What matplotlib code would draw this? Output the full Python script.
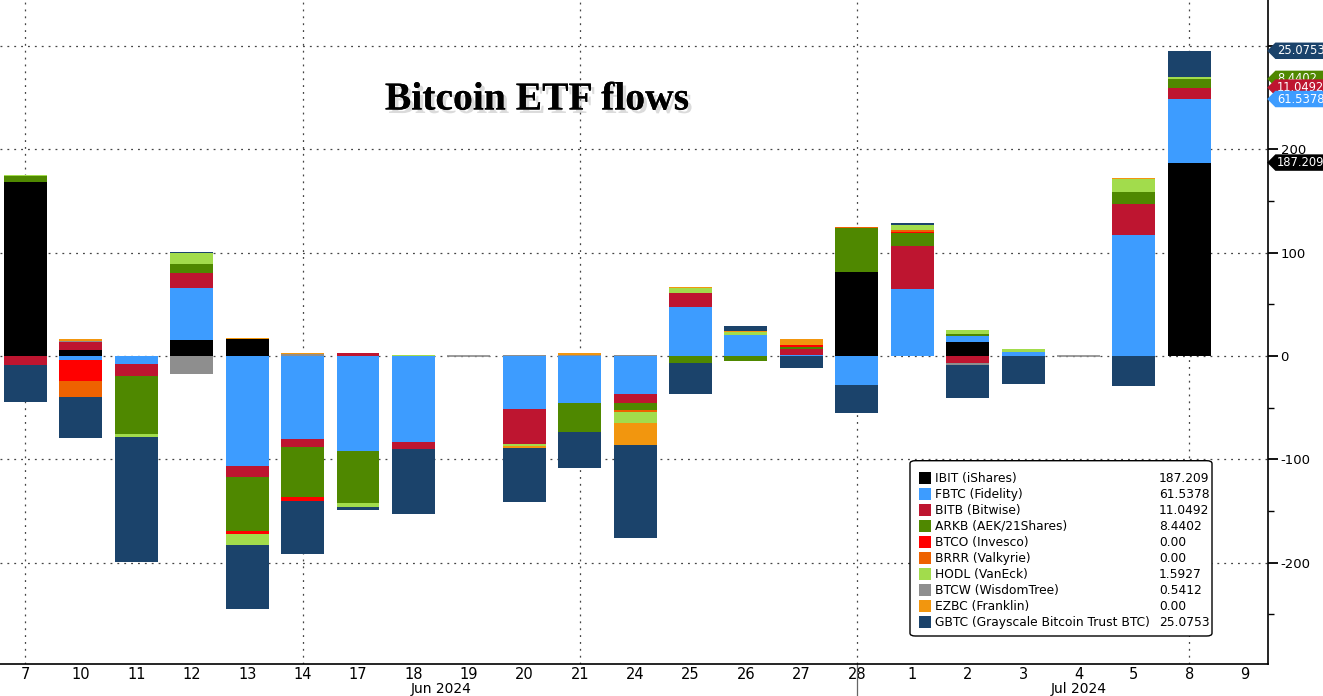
import matplotlib
matplotlib.use('Agg')
import matplotlib.pyplot as plt
import matplotlib.patheffects as pe
import matplotlib.transforms as mtrans
from matplotlib.path import Path
from matplotlib.patches import FancyBboxPatch, Rectangle
import numpy as np

# trading days, Jun 7 2024 .. Jul 9 2024
days = ['7', '10', '11', '12', '13', '14', '17', '18', '19', '20', '21', '24',
        '25', '26', '27', '28', '1', '2', '3', '4', '5', '8', '9']
months = ['Jun 2024'] * 16 + ['Jul 2024'] * 7
grid_days = ['7', '14', '21', '28', '8']

nan = np.nan
# daily flows, $m
ibit = [168.1, 5.8, 0, 15.5, 16.8, 0, 0, 0, 0, 0, 0, 0, 0, 0, 0, 81.6, 0, 13.6, 0, 0, 0, 187.209, nan]
fbtc = [0, -3.9, -7.7, 50.6, -106.5, -80.3, -92.0, -82.9, 0, -51.0, -45.8, -36.8, 47.1, 20.3, 0.8, -28.1, 65.2, 5.8, 4.2, 0, 117.1, 61.5378, nan]
bitb = [-8.7, 7.4, -11.6, 14.5, -10.6, -7.7, 2.6, -7.4, 0, -34.2, 0, -9.0, 14.2, 0, 6.2, 0, 41.3, -7.1, 0, 0, 30.0, 11.0492, nan]
arkb = [6.1, 0, -56.1, 8.1, -52.0, -48.1, -50.3, 0, 0, 0, -27.8, -6.5, -6.8, -4.5, 2.0, 42.6, 12.3, 1.6, 0, 0, 11.3, 8.4402, nan]
btco = [0, -20.3, 0, 0, -3.2, -3.9, 0, 0, 0, 0, 0, 0, 0, 0, 2.0, 0, 1.6, 0, 0, 0, 0, 0.0, nan]
brrr = [0, -15.5, 0, 0.8, 0, 0, 0, 0, 0, 0, 0, -2.3, 0, 0, 0, 0.4, 1.6, 0, 0, 0, 0, 0.0, nan]
hodl = [1.0, 0, -3.5, 9.7, -10.6, 0, -3.5, 0.6, 0, -2.0, 0, -10.6, 4.3, 2.5, 0, 0.4, 4.8, 4.2, 2.6, 0, 12.9, 1.5927, nan]
btcw = [0, 1.6, 0, -17.1, 0, 2.0, 0, 0, 0, 1.0, 0.5, 0.6, 0, 0, 0, 0, 0, -1.9, 0, 0, 0, 0.5412, nan]
ezbc = [0, 1.6, 0.4, 0, 0.6, 1.2, 0.6, 0, 0, -1.5, 2.5, -20.7, 1.5, 1.4, 5.0, 0, 0, 0, 0, 0, 0.8, 0.0, nan]
gbtc = [-35.5, -39.4, -121.0, 1.3, -61.6, -51.6, -3.2, -62.3, 0, -52.3, -34.5, -90.0, -29.7, 4.8, -11.3, -26.8, 1.6, -31.3, -27.1, 0, -29.0, 25.0753, nan]

names = ['IBIT (iShares)', 'FBTC (Fidelity)', 'BITB (Bitwise)', 'ARKB (AEK/21Shares)',
         'BTCO (Invesco)', 'BRRR (Valkyrie)', 'HODL (VanEck)', 'BTCW (WisdomTree)',
         'EZBC (Franklin)', 'GBTC (Grayscale Bitcoin Trust BTC)']
series = [ibit, fbtc, bitb, arkb, btco, brrr, hodl, btcw, ezbc, gbtc]
colors = ['#000000', '#3d9cff', '#be1530', '#4f8800', '#ff0000', '#ee6200',
          '#a2dc4c', '#8e8e8e', '#f2960e', '#1b436b']

fig = plt.figure(figsize=(13.23, 6.96), dpi=100)
ax = fig.add_axes([0, 1 - 664 / 696, 1268 / 1323, 664 / 696])

x = np.arange(len(days))
w = 0.775
pos_base = np.zeros(len(days))
neg_base = np.zeros(len(days))
last = max(i for i in range(len(days)) if not np.isnan(ibit[i]))
tags = []
for name, vals, c in zip(names, series, colors):
    v = np.array(vals, float)
    pos = np.where(v > 0, v, 0)
    neg = np.where(v < 0, v, 0)
    ax.bar(x, pos, w, bottom=pos_base, color=c, lw=0, zorder=3)
    ax.bar(x, neg, w, bottom=neg_base, color=c, lw=0, zorder=3)
    pos_base += pos
    neg_base += neg
    if v[last] >= 5:
        tags.append((v[last], pos_base[last], c))

# days with no flows at all get a flat grey line
tot = np.array([np.nansum(np.abs([s[i] for s in series])) for i in range(len(days))])
has = np.array([not np.isnan(ibit[i]) for i in range(len(days))])
flat = (tot == 0) & has
ax.bar(x[flat], np.zeros(flat.sum()), w, color='none', edgecolor='#8a8a8a', lw=1.2, zorder=3)

ax.set_xlim(-0.46, 22.42)
ax.set_ylim(-298.2, 344.6)

# axes / ticks
for s in ['left', 'top']:
    ax.spines[s].set_visible(False)
ax.spines['right'].set_linewidth(1.2)
ax.spines['bottom'].set_linewidth(1.2)
ax.yaxis.tick_right()
ax.set_yticks([-200, -100, 0, 100, 200, 300])
ax.set_yticklabels(['-200', '-100', '0', '100', '200', ''])
ax.set_yticks([-250, -150, -50, 50, 150, 250], minor=True)
ax.tick_params(axis='y', which='major', length=7, width=1.3, pad=2, labelsize=9.5)
ax.tick_params(axis='y', which='minor', length=4, width=1)
ax.set_xticks(x)
ax.set_xticklabels(days, fontsize=10.5)
ax.tick_params(axis='x', length=0, pad=2)

grid_ls = (0, (1.5, 4))
for yv in [-200, -100, 0, 100, 200, 300]:
    ax.axhline(yv, color='#444444', lw=0.9, ls=grid_ls, zorder=1)
for d in grid_days:
    ax.axvline(days.index(d), color='#444444', lw=0.9, ls=grid_ls, zorder=1)

# month labels and separator
btr = mtrans.blended_transform_factory(ax.transData, ax.transAxes)
for m in ['Jun 2024', 'Jul 2024']:
    idx = [i for i, mm in enumerate(months) if mm == m]
    ax.text((idx[0] + idx[-1]) / 2, -0.038, m, transform=btr, ha='center', va='center',
            fontsize=10)
sep = months.index('Jul 2024') - 1
ax.plot([sep, sep], [0, -0.06], transform=btr, color='#666666', lw=0.9, clip_on=False)

# value tags on the right
def tag_shape(x0, y0, width, height, mutation_size):
    pad = 0.15 * mutation_size
    x0, y0 = x0 - pad, y0 - pad
    ww, hh = width + 2 * pad, height + 2 * pad
    tip = 0.5 * hh
    verts = [(x0, y0), (x0 + ww + 20, y0), (x0 + ww + 20, y0 + hh), (x0, y0 + hh),
             (x0 - tip, y0 + hh / 2), (x0, y0)]
    return Path(verts, closed=True)

ytr = mtrans.blended_transform_factory(ax.transAxes, ax.transData)
for k, (val, top, c) in enumerate(sorted(tags, key=lambda t: -t[1])):
    ax.text(1.0072, top, f'{val:.6g}', transform=ytr, ha='left', va='center', color='white',
            fontsize=8.3, clip_on=False, zorder=10 + k,
            bbox=dict(boxstyle=tag_shape, fc=c, ec='none'))

# title
t = fig.text(537 / 1323, 1 - 100 / 696, 'Bitcoin ETF flows', ha='center', va='center',
             family='Liberation Serif', fontweight='bold', fontsize=28.5)
t.set_path_effects([pe.withSimplePatchShadow(offset=(2.5, -2.5), shadow_rgbFace='#999999', alpha=0.35),
                    pe.Normal()])

# legend box
lx0, lx1 = 910 / 1323, 1212 / 1323
ly0, ly1 = 1 - 636 / 696, 1 - 460.7 / 696
fig.patches.append(FancyBboxPatch((lx0, ly0), lx1 - lx0, ly1 - ly0,
                                  boxstyle='round,pad=0,rounding_size=0.004',
                                  transform=fig.transFigure, fc='white', ec='black', lw=1, zorder=20))
for i, (name, vals, c) in enumerate(zip(names, series, colors)):
    yc = 1 - (478.3 + 16 * i) / 696
    fig.patches.append(Rectangle((919 / 1323, yc - 6 / 696), 12 / 1323, 12 / 696,
                                 transform=fig.transFigure, fc=c, ec='none', zorder=21))
    val = vals[last]
    txt = '0.00' if val == 0 else f'{val:.6g}'
    fig.text(935 / 1323, yc, name, ha='left', va='center', fontsize=8.8, zorder=22)
    fig.text(1159 / 1323, yc, txt, ha='left', va='center', fontsize=8.8, zorder=22)

fig.savefig('out.png', dpi=100)
